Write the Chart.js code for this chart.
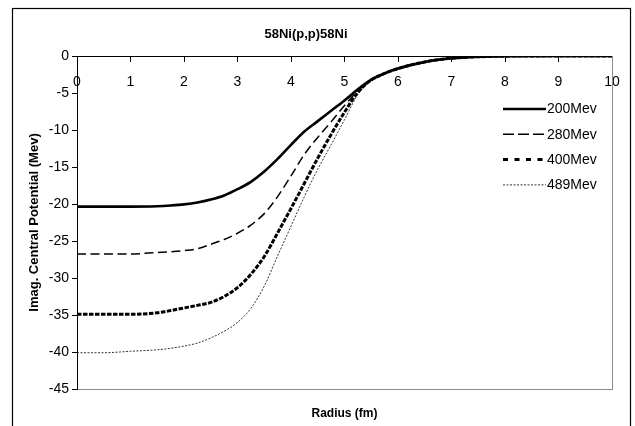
<!DOCTYPE html>
<html>
<head>
<meta charset="utf-8">
<title>58Ni(p,p)58Ni</title>
<script src="https://cdn.jsdelivr.net/npm/chart.js@4.4.1/dist/chart.umd.min.js"></script>
<style>
  html, body { margin: 0; padding: 0; background: #fff; }
  canvas { display: block; }
</style>
</head>
<body>
<canvas id="potential" width="635" height="426"></canvas>
<script>
// radius grid (fm) shared by every curve
const radius = [0, 0.5, 1, 1.5, 1.75, 2, 2.25, 2.5, 2.75, 3, 3.25, 3.5, 3.75, 4, 4.25, 4.5,
                4.75, 5, 5.25, 5.5, 5.75, 6, 6.25, 6.5, 6.75, 7, 7.25, 7.5, 8, 9, 10];

const energyLabels = ['200Mev', '280Mev', '400Mev', '489Mev'];

// imaginary central potential (Mev) at each radius
const w200 = [-20.35, -20.35, -20.35, -20.3, -20.2, -20.05, -19.8, -19.4, -18.85, -18.0, -17.0, -15.6,
              -13.9, -12.0, -10.2, -8.8, -7.4, -6.0, -4.5, -3.2, -2.35, -1.7, -1.2, -0.8, -0.5, -0.3,
              -0.18, -0.1, -0.02, 0, 0];
const w280 = [-26.75, -26.75, -26.75, -26.55, -26.45, -26.3, -26.05, -25.45, -24.8, -23.95, -22.85, -21.3,
              -19.0, -16.2, -13.3, -11.0, -8.9, -6.7, -4.7, -3.25, -2.35, -1.7, -1.2, -0.8, -0.5, -0.3,
              -0.18, -0.1, -0.02, 0, 0];
const w400 = [-34.9, -34.9, -34.9, -34.7, -34.4, -34.05, -33.7, -33.3, -32.5, -31.3, -29.5, -27.1,
              -23.9, -20.6, -17.2, -13.8, -10.6, -7.6, -4.9, -3.25, -2.35, -1.7, -1.2, -0.8, -0.5, -0.3,
              -0.18, -0.1, -0.02, 0, 0];
const w489 = [-40.1, -40.1, -39.9, -39.7, -39.5, -39.2, -38.8, -38.1, -37.2, -36.0, -34.1, -31.1,
              -27.0, -23.0, -19.0, -15.3, -12.0, -8.6, -5.2, -3.3, -2.35, -1.7, -1.2, -0.8, -0.5, -0.3,
              -0.18, -0.1, -0.02, 0, 0];

const yTicks = [0, -5, -10, -15, -20, -25, -30, -35, -40, -45];

const FONT = "'Liberation Sans', Arial, Helvetica, sans-serif";
Chart.defaults.font.family = FONT;
Chart.defaults.color = '#000';

// line look per energy: width, dash in the plot, dash in the key
const lineStyles = [
  { color: '#000', width: 2.6, dash: [], keyDash: [] },
  { color: '#000', width: 1.5, dash: [9, 4.5], keyDash: [11, 4] },
  { color: '#000', width: 3, dash: [4.5, 1.5], keyDash: [5, 6.5] },
  { color: '#333', width: 1, dash: [2, 1.5], keyDash: [2, 1.5] }
];

const curves = [w200, w280, w400, w489];

const datasets = curves.map((vals, i) => ({
  label: energyLabels[i],
  data: radius.map((r, j) => ({ x: r, y: vals[j] })),
  borderColor: lineStyles[i].color,
  borderWidth: lineStyles[i].width,
  borderDash: lineStyles[i].dash,
  keyDash: lineStyles[i].keyDash,
  pointRadius: 0,
  fill: false,
  cubicInterpolationMode: 'monotone'
}));

// white page and the black outline round the whole chart
const framePlugin = {
  id: 'frame',
  beforeDraw(chart) {
    const ctx = chart.ctx;
    ctx.save();
    ctx.fillStyle = '#fff';
    ctx.fillRect(0, 0, chart.width, chart.height);
    ctx.restore();
  },
  afterDraw(chart) {
    const ctx = chart.ctx;
    ctx.save();
    ctx.strokeStyle = '#000';
    ctx.lineWidth = 1.2;
    ctx.strokeRect(12.5, 8.5, 618, chart.height + 10);
    ctx.restore();
  }
};

// key drawn inside the plot, right side
const keyPlugin = {
  id: 'insideKey',
  afterDatasetsDraw(chart) {
    const { ctx, chartArea } = chart;
    const x0 = chartArea.right - 109;
    const lineLen = 43;
    const y0 = chartArea.top + 53;
    const step = 25.3;
    ctx.save();
    ctx.font = '14px ' + FONT;
    ctx.textBaseline = 'middle';
    ctx.textAlign = 'left';
    chart.data.datasets.forEach((ds, i) => {
      const y = y0 + i * step;
      ctx.beginPath();
      ctx.strokeStyle = ds.borderColor;
      ctx.lineWidth = ds.borderWidth;
      ctx.setLineDash(ds.keyDash);
      ctx.moveTo(x0, y);
      ctx.lineTo(x0 + lineLen, y);
      ctx.stroke();
      ctx.setLineDash([]);
      ctx.fillStyle = '#000';
      ctx.fillText(ds.label, x0 + lineLen + 1, y + 0.5);
    });
    ctx.restore();
  }
};

new Chart(document.getElementById('potential'), {
  type: 'line',
  data: { datasets },
  plugins: [framePlugin, keyPlugin],
  options: {
    responsive: false,
    animation: false,
    layout: { padding: { left: 0, right: 23, top: 0, bottom: 0 } },
    plugins: {
      legend: { display: false },
      tooltip: { enabled: false },
      title: {
        display: true,
        text: '58Ni(p,p)58Ni',
        font: { size: 13, weight: 'bold' },
        padding: { top: 27, bottom: 13.4 }
      }
    },
    scales: {
      x: {
        type: 'linear',
        position: { y: 0 },
        min: 0,
        max: 10,
        grid: { drawOnChartArea: false, tickLength: 5, color: '#000' },
        border: { color: '#000', width: 1 },
        ticks: { stepSize: 1, padding: 13, font: { size: 14 }, color: '#000' }
      },
      xBottom: {
        type: 'linear',
        position: 'bottom',
        min: 0,
        max: 10,
        grid: { display: false },
        border: { color: '#8c8c8c', width: 1 },
        ticks: { display: false },
        title: {
          display: true,
          text: 'Radius (fm)',
          font: { size: 12, weight: 'bold' },
          padding: { top: 0, bottom: 5.5 }
        },
        afterFit(scale) { scale.height = 37; }
      },
      y: {
        type: 'linear',
        position: 'left',
        min: -45,
        max: 0,
        afterBuildTicks(scale) { scale.ticks = yTicks.map(v => ({ value: v })); },
        grid: { drawOnChartArea: false, tickLength: 5, color: '#000' },
        border: { color: '#000', width: 1 },
        ticks: { padding: 3, font: { size: 14 }, color: '#000' },
        title: {
          display: true,
          text: 'Imag. Central Potential (Mev)',
          font: { size: 13, weight: 'bold' },
          padding: { top: 27, bottom: 0 }
        },
        afterFit(scale) { scale.width = 77; }
      },
      yRight: {
        type: 'linear',
        position: 'right',
        min: -45,
        max: 0,
        grid: { display: false },
        border: { color: '#8c8c8c', width: 1 },
        ticks: { display: false },
        afterFit(scale) { scale.width = 0; }
      }
    }
  }
});
</script>
</body>
</html>
